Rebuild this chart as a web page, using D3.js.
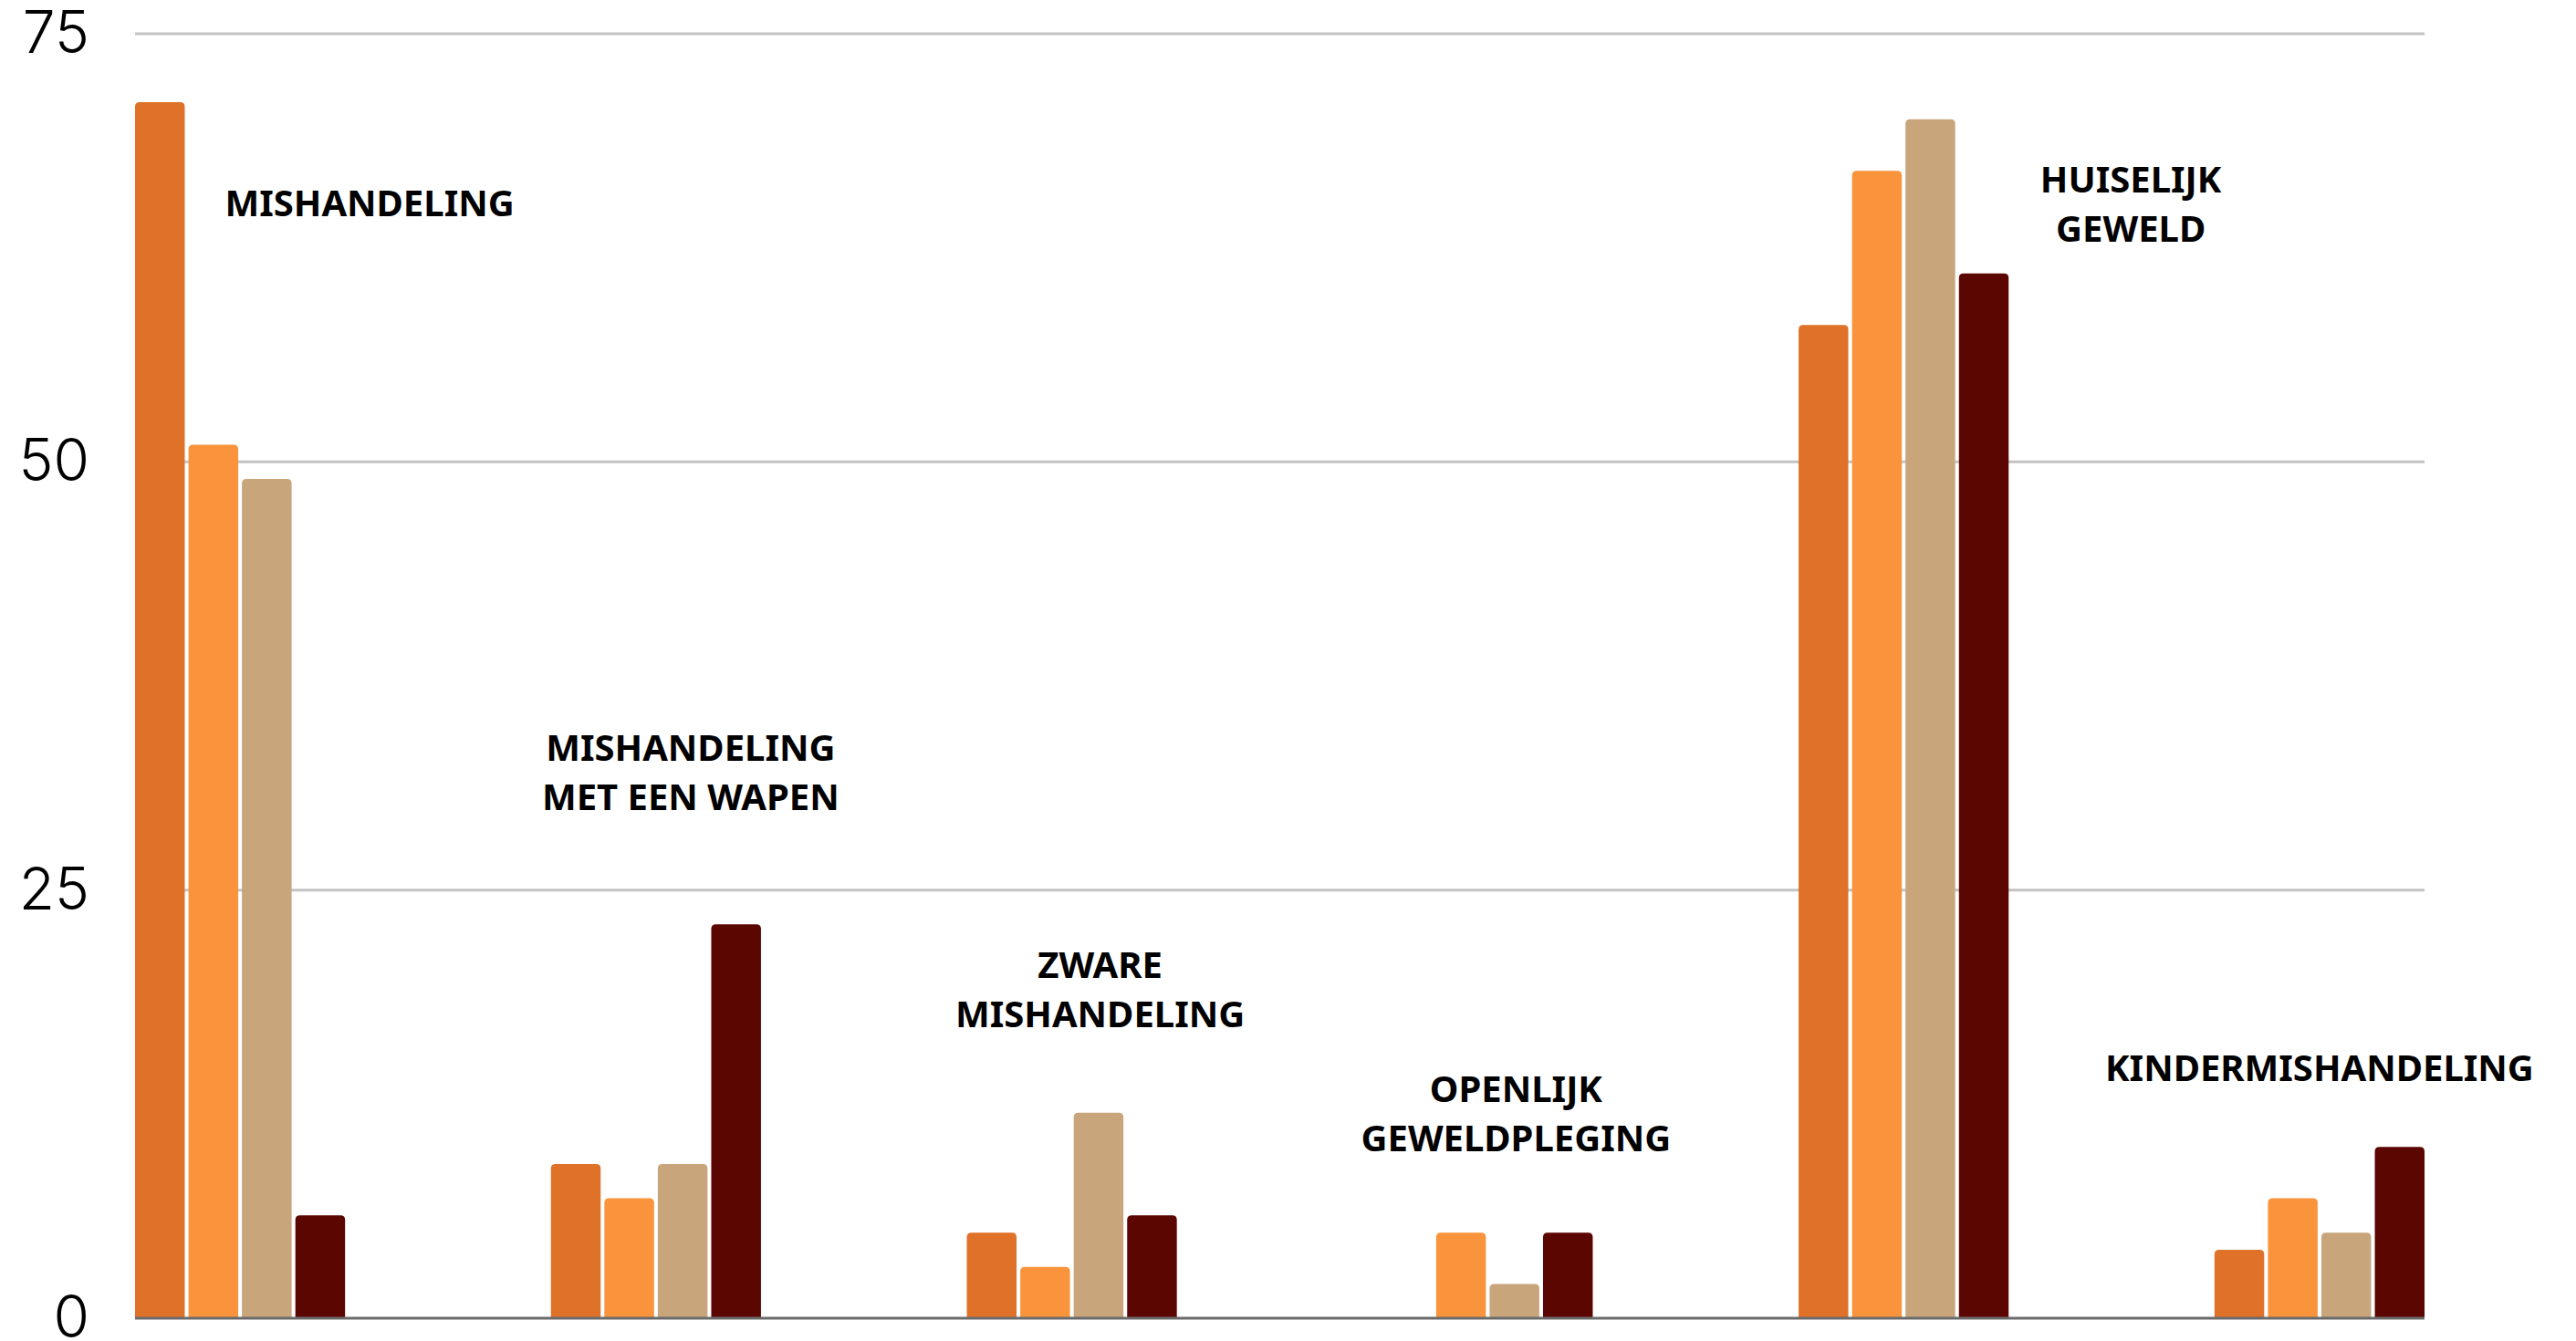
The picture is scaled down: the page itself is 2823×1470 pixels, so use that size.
<!DOCTYPE html>
<html>
<head>
<meta charset="utf-8">
<script src="https://cdn.jsdelivr.net/npm/d3@7"></script>
<style>
  html, body { margin: 0; padding: 0; background: #fff; }
  svg { display: block; }
</style>
</head>
<body>
<svg id="chart"></svg>
<script>
// categorieën en reeksen
const categories = ["MISHANDELING", "MISHANDELING MET EEN WAPEN", "ZWARE MISHANDELING",
                    "OPENLIJK GEWELDPLEGING", "HUISELIJK GEWELD", "KINDERMISHANDELING"];
const seriesNames = ["s1", "s2", "s3", "s4"];
const s1 = [71, 9, 5, 0, 58, 4];
const s2 = [51, 7, 3, 5, 67, 7];
const s3 = [49, 9, 12, 2, 70, 5];
const s4 = [6, 23, 6, 5, 61, 10];
const yTicks = [0, 25, 50, 75];
// labels boven de groepen (regels)
const labelLines = [
  ["MISHANDELING"],
  ["MISHANDELING", "MET EEN WAPEN"],
  ["ZWARE", "MISHANDELING"],
  ["OPENLIJK", "GEWELDPLEGING"],
  ["HUISELIJK", "GEWELD"],
  ["KINDERMISHANDELING"]
];

const colors = ["#E07129", "#F9943C", "#C8A57B", "#5C0601"];

// layout van de labels: verschuiving t.o.v. groepsmidden (px), hoogte in waarde-eenheden
const labelLayout = [
  {dx: 142, y: 65.2},
  {dx: 38,  y: 33.4},
  {dx: 31,  y: 20.7},
  {dx: 31,  y: 13.5},
  {dx: 249, y: 66.6},
  {dx: 0,   y: 14.7}
];

const width = 2823, height = 1470;
const margin = {top: 37, right: 166, bottom: 25, left: 148};

const svg = d3.select("#chart").attr("width", width).attr("height", height);

const data = categories.map((c, i) => ({
  cat: c,
  values: [s1[i], s2[i], s3[i], s4[i]]
}));

const x0 = d3.scaleBand()
  .domain(categories)
  .range([margin.left, width - margin.right])
  .paddingInner(0.495)
  .paddingOuter(0);

const x1 = d3.scaleBand()
  .domain(seriesNames)
  .range([0, x0.bandwidth()])
  .paddingInner(0.07);

const y = d3.scaleLinear()
  .domain([0, 75])
  .range([height - margin.bottom, margin.top]);

// rasterlijnen
svg.append("g")
  .selectAll("line")
  .data(yTicks.filter(t => t > 0))
  .enter().append("line")
  .attr("x1", margin.left)
  .attr("x2", width - margin.right)
  .attr("y1", d => y(d))
  .attr("y2", d => y(d))
  .attr("stroke", "#c3c3c3")
  .attr("stroke-width", 3);

// y-as labels
const yAxis = d3.axisLeft(y).tickValues(yTicks).tickSize(0).tickPadding(50);
const yg = svg.append("g")
  .attr("transform", `translate(${margin.left},0)`)
  .call(yAxis);
yg.select(".domain").remove();
yg.selectAll("text")
  .attr("font-family", "Inter, sans-serif")
  .attr("font-weight", 300)
  .attr("font-size", 64)
  .attr("fill", "#000");

// staven met afgeronde bovenhoeken
function topRounded(x, yTop, w, h, r) {
  if (h <= 0) return "";
  r = Math.min(r, h, w / 2);
  return `M${x},${yTop + h}V${yTop + r}Q${x},${yTop} ${x + r},${yTop}` +
         `H${x + w - r}Q${x + w},${yTop} ${x + w},${yTop + r}V${yTop + h}Z`;
}

const groups = svg.append("g")
  .selectAll("g")
  .data(data)
  .enter().append("g")
  .attr("transform", d => `translate(${x0(d.cat)},0)`);

groups.selectAll("path")
  .data(d => d.values.map((v, j) => ({key: seriesNames[j], v, j})))
  .enter().append("path")
  .attr("fill", d => colors[d.j])
  .attr("d", d => topRounded(x1(d.key), y(d.v), x1.bandwidth(), y(0) - y(d.v), 5));

// basislijn
svg.append("line")
  .attr("x1", margin.left)
  .attr("x2", width - margin.right)
  .attr("y1", y(0))
  .attr("y2", y(0))
  .attr("stroke", "#6b6b6b")
  .attr("stroke-width", 3);

// categorie labels
const lineH = 54;
data.forEach((d, i) => {
  const lay = labelLayout[i];
  const cx = x0(d.cat) + x0.bandwidth() / 2 + lay.dx;
  const t = svg.append("text")
    .attr("x", cx)
    .attr("y", y(lay.y))
    .attr("text-anchor", "middle")
    .attr("dominant-baseline", "central")
    .attr("font-family", "'Noto Sans', sans-serif")
    .attr("font-weight", 700)
    .attr("font-size", 40)
    .attr("fill", "#000");
  labelLines[i].forEach((ln, k) => {
    t.append("tspan")
      .attr("x", cx)
      .attr("dy", k === 0 ? 0 : lineH)
      .text(ln);
  });
});
</script>
</body>
</html>
